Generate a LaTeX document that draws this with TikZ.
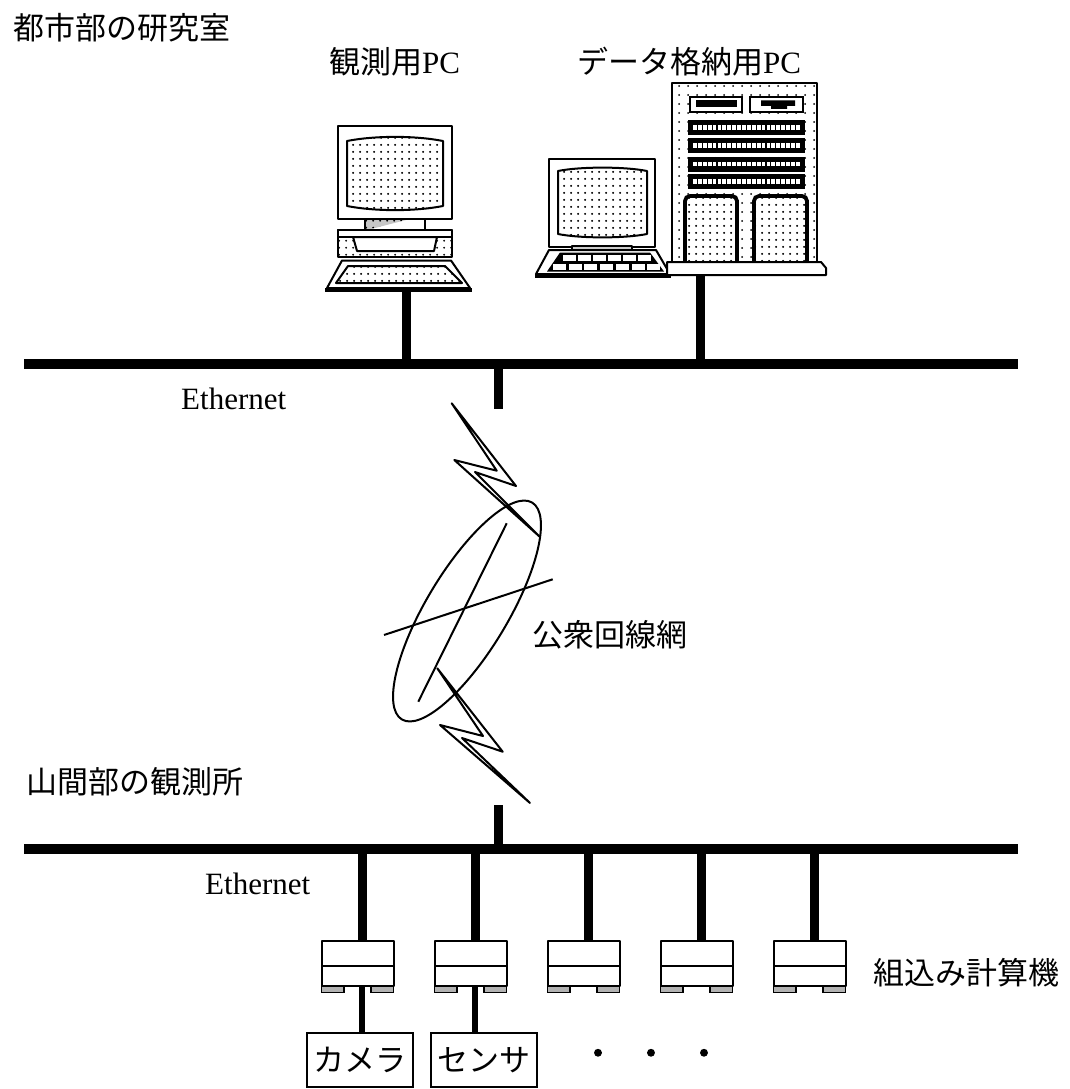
\documentclass[tikz,border=0pt]{standalone}
\usepackage{fontspec}
\setmainfont{Liberation Serif}
\newfontfamily\jp{Noto Sans CJK JP}
\newfontfamily\jpheavy[FakeBold=4]{Noto Sans CJK JP}
\usetikzlibrary{patterns}

% dot screens used for monitors, cabinet and doors
\pgfdeclarepatternformonly{screendots}{\pgfqpoint{0pt}{0pt}}{\pgfqpoint{6.6pt}{6.6pt}}{\pgfqpoint{6.6pt}{6.6pt}}{\pgfpathcircle{\pgfqpoint{3.3pt}{3.3pt}}{1.1pt}\pgfusepath{fill}}
\pgfdeclarepatternformonly{cabinetdots}{\pgfqpoint{0pt}{0pt}}{\pgfqpoint{9pt}{9pt}}{\pgfqpoint{9pt}{9pt}}{\pgfpathcircle{\pgfqpoint{4.5pt}{4.5pt}}{1.1pt}\pgfusepath{fill}}

\begin{document}
\begin{tikzpicture}[x=1pt,y=-1pt,
  bus/.style={line width=10pt},
  stub/.style={line width=9pt},
  thinstub/.style={line width=6.5pt},
  outline/.style={line width=2pt, line join=round},
  jplabel/.style={font=\jp\fontsize{31}{31}\selectfont, inner sep=0pt, anchor=west},
  enlabel/.style={font=\fontsize{31}{31}\selectfont, inner sep=0pt, anchor=west},
  devbox/.style={draw, line width=2pt, minimum width=106pt, minimum height=54pt,
                 inner sep=0pt, font=\jp\fontsize{31}{31}\selectfont},
]
\useasboundingbox (0,0) rectangle (1069,1089);
\fill[white] (0,0) rectangle (1069,1089);

% ---------- titles ----------
\node[jplabel] (lab)      at (13,28)  {都市部の研究室};
\node[jplabel] (pcname)   at (329,62) {観測用\rmfamily PC};
\node[jplabel] (srvname)  at (577,62) {データ格納用\rmfamily PC};
\node[enlabel] (ethtop)   at (181,399) {Ethernet};
\node[jplabel] (pstn)     at (532,635) {公衆回線網};
\node[jplabel] (site)     at (26,782) {山間部の観測所};
\node[enlabel] (ethbot)   at (205,884) {Ethernet};
\node[jplabel] (embname)  at (873,973) {組込み計算機};

% ---------- bus lines ----------
\coordinate (busTL) at (24,364);
\coordinate (busTR) at (1018,364);
\coordinate (busBL) at (24,849);
\coordinate (busBR) at (1018,849);

% ---------- observation PC ----------
\draw[outline, fill=white] (338,126) rectangle (452,219);
\draw[outline, preaction={fill=white}, pattern=screendots]
  (347,141) .. controls (375,135.5) and (415,135.5) .. (443,141) -- (443,206)
  .. controls (415,211.5) and (375,211.5) .. (347,206) -- cycle;
\draw[outline, fill=white] (365,219) rectangle (425,230);
\fill[gray!45] (366,220) -- (406,220) -- (371,229) -- (366,229) -- cycle;
\fill[pattern=screendots] (366,220) -- (406,220) -- (371,229) -- (366,229) -- cycle;
\draw[outline, preaction={fill=white}, pattern=screendots] (338,230) rectangle (452,257);
\draw[outline, fill=white] (338,230) rectangle (452,237);
\draw[outline, fill=white] (353,237) -- (437,237) -- (434,251) -- (357,251) -- cycle;
\draw[outline, fill=white] (342,260.5) -- (451,260.5) -- (470,288) -- (327,288) -- cycle;
\draw[outline, preaction={fill=white}, pattern=screendots]
  (348,266) -- (445,266) -- (462,283) -- (336,283) -- cycle;
\draw[line width=4.5pt] (325,290) -- (472,290);
\coordinate (pcport) at (406,292);

% ---------- laptop ----------
\draw[outline, fill=white] (549,159) rectangle (655,247);
\draw[outline, preaction={fill=white}, pattern=screendots]
  (558,171) .. controls (580,166.5) and (625,166.5) .. (647,171) -- (647,234)
  .. controls (625,238.5) and (580,238.5) .. (558,234) -- cycle;
\draw[outline, fill=gray!40] (572,246) rectangle (632,250);
\draw[outline, fill=white] (549,250) -- (656,250) -- (670,274) -- (536,274) -- cycle;
\fill (560,252.5) -- (650,252.5) -- (664,271.5) -- (547,271.5) -- cycle;
\foreach \k in {0,...,5} \fill[white] (563+\k*15,254.5) rectangle +(12.5,6.5);
\foreach \k in {0,...,6} \fill[white] (553+\k*15.7,263.5) rectangle +(13,6.5);
\draw[line width=4pt] (535,276) -- (671,276);

% ---------- storage server ----------
\draw[outline, preaction={fill=white}, pattern=cabinetdots] (672,83) rectangle (817,262);
\draw[line width=2.2pt, fill=white] (690,97) rectangle (742,112);
\fill (696,100.5) rectangle (737,107);
\draw[line width=2.2pt, fill=white] (750,97) rectangle (803,112);
\fill (761,100.5) -- (795,100.5) -- (795,106) -- (787,106) -- (787,109)
      -- (771,109) -- (771,106) -- (761,106) -- cycle;
\foreach \yy in {127.5,145.5,164,181.5} {
  \fill (688,\yy-7.5) rectangle (805,\yy+7.5);
  \foreach \k in {0,...,21} \fill[white] (693+\k*4.9,\yy-2.4) rectangle +(3.8,4.8);
}
\draw[line width=3.8pt, rounded corners=5pt, preaction={fill=white}, pattern=screendots]
  (685,262) -- (685,196) -- (737,196) -- (737,262);
\draw[line width=3.8pt, rounded corners=5pt, preaction={fill=white}, pattern=screendots]
  (754,262) -- (754,196) -- (807,196) -- (807,262);
\draw[outline, fill=white] (667,262) -- (821,262) -- (826,268) -- (826,275) -- (667,275) -- cycle;
\coordinate (srvport) at (700,275);

% ---------- upper network ----------
\draw[stub] (pcport) -- (pcport |- busTL);
\draw[stub] (srvport) -- (srvport |- busTL);
\draw[bus] (busTL) -- (busTR);
\coordinate (labtap) at (498,409);
\draw[stub] (labtap |- busTL) -- (labtap);

% ---------- public line with radio links ----------
\draw[outline] (451.7,403.3) -- (516,486) -- (475,472) -- (540,537)
  -- (454.3,460) -- (496.7,470.7) -- cycle;
\draw[outline, rotate around={59:(467,611)}] (467,611) ellipse [x radius=126.5, y radius=40.8];
\draw[outline] (506.7,523.3) -- (418.3,701.7);
\draw[outline] (552.7,579.3) -- (384,635);
\draw[outline] (437.3,668.3) -- (502.7,751.7) -- (462,738) -- (530,803)
  -- (440,725) -- (483,736) -- cycle;

% ---------- lower network ----------
\coordinate (sitetap) at (498,805);
\draw[stub] (sitetap) -- (sitetap |- busBL);
\foreach \s [count=\i] in {362,475,588,701,814} {
  \coordinate (ec\i) at (\s,941);
  \coordinate (ecf\i) at (\s,986);
  \draw[stub] (ec\i) -- (ec\i |- busBL);
  \draw[outline, fill=white] (\s-40.5,941) rectangle (\s+31.5,986);
  \draw[outline] (\s-40.5,966) -- (\s+31.5,966);
  \draw[line width=1.4pt, fill=gray!60] (\s-40.5,986) rectangle (\s-18,992.5);
  \draw[line width=1.4pt, fill=gray!60] (\s+9,986) rectangle (\s+31.5,992.5);
}
\draw[bus] (busBL) -- (busBR);

% ---------- attached devices ----------
\node[devbox] (cam)  at (360,1060) {カメラ};
\node[devbox] (sens) at (484,1060) {センサ};
\draw[thinstub] (ecf1) -- (ecf1 |- cam.north);
\draw[thinstub] (ecf2) -- (ecf2 |- sens.north);
\node[font=\jpheavy\fontsize{31}{31}\selectfont, inner sep=0pt] (more) at (651,1057)
  {・\hspace{22pt}・\hspace{22pt}・};
\end{tikzpicture}
\end{document}
